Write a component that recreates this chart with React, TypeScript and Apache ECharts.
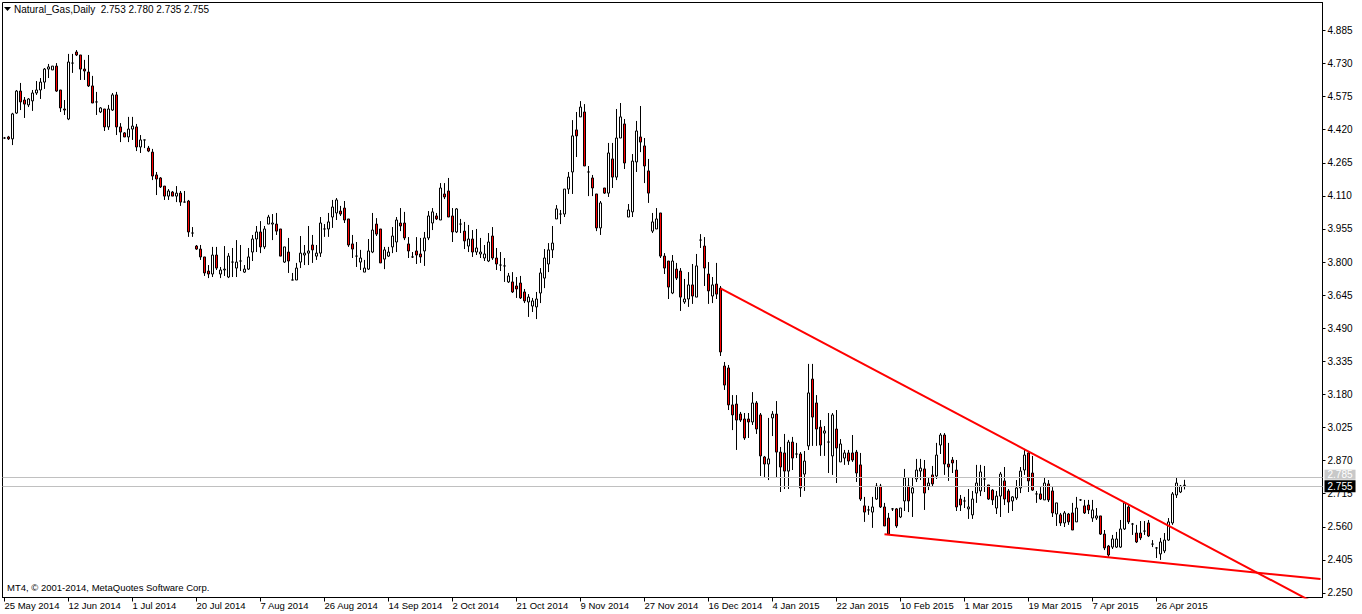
import { useEffect, useRef } from "react";
import * as echarts from "echarts";

const dateLabels = [
  "25 May 2014", "12 Jun 2014", "1 Jul 2014", "20 Jul 2014", "7 Aug 2014",
  "26 Aug 2014", "14 Sep 2014", "2 Oct 2014", "21 Oct 2014", "9 Nov 2014",
  "27 Nov 2014", "16 Dec 2014", "4 Jan 2015", "22 Jan 2015", "10 Feb 2015",
  "1 Mar 2015", "19 Mar 2015", "7 Apr 2015", "26 Apr 2015",
];

const priceTicks = [
  2.25, 2.405, 2.56, 2.715, 2.87, 3.025, 3.18, 3.335, 3.49, 3.645,
  3.8, 3.955, 4.11, 4.265, 4.42, 4.575, 4.73, 4.885,
];

// [open, close, low, high]
const candles: number[][] = [
  [4.381, 4.381, 4.377, 4.386], [4.386, 4.377, 4.372, 4.391], [4.377, 4.494, 4.348, 4.499], [4.498, 4.601, 4.494, 4.606],
  [4.601, 4.550, 4.512, 4.639], [4.559, 4.540, 4.475, 4.573], [4.536, 4.564, 4.526, 4.568], [4.555, 4.592, 4.508, 4.606],
  [4.592, 4.606, 4.583, 4.648], [4.606, 4.643, 4.564, 4.662], [4.643, 4.704, 4.611, 4.709], [4.704, 4.714, 4.662, 4.728],
  [4.700, 4.718, 4.700, 4.718], [4.718, 4.601, 4.597, 4.732], [4.606, 4.522, 4.503, 4.606], [4.517, 4.512, 4.489, 4.559],
  [4.470, 4.737, 4.465, 4.775], [4.732, 4.732, 4.686, 4.775], [4.784, 4.770, 4.765, 4.793], [4.770, 4.704, 4.653, 4.770],
  [4.704, 4.695, 4.653, 4.747], [4.690, 4.625, 4.620, 4.770], [4.625, 4.545, 4.545, 4.672], [4.550, 4.550, 4.489, 4.597],
  [4.503, 4.522, 4.498, 4.526], [4.517, 4.433, 4.414, 4.517], [4.433, 4.517, 4.419, 4.536], [4.512, 4.583, 4.508, 4.592],
  [4.583, 4.433, 4.395, 4.597], [4.433, 4.409, 4.362, 4.451], [4.405, 4.386, 4.386, 4.409], [4.386, 4.423, 4.362, 4.480],
  [4.423, 4.437, 4.372, 4.480], [4.433, 4.339, 4.320, 4.447], [4.339, 4.372, 4.311, 4.395], [4.372, 4.372, 4.334, 4.372],
  [4.334, 4.320, 4.315, 4.344], [4.315, 4.203, 4.184, 4.330], [4.208, 4.189, 4.114, 4.222], [4.194, 4.152, 4.147, 4.198],
  [4.156, 4.109, 4.091, 4.156], [4.109, 4.133, 4.091, 4.142], [4.128, 4.109, 4.109, 4.133], [4.109, 4.123, 4.081, 4.156],
  [4.123, 4.081, 4.063, 4.133], [4.081, 4.081, 4.081, 4.133], [4.086, 3.941, 3.918, 4.091], [3.936, 3.936, 3.918, 3.964],
  [3.875, 3.861, 3.857, 3.880], [3.861, 3.824, 3.810, 3.880], [3.824, 3.749, 3.735, 3.824], [3.758, 3.744, 3.725, 3.786],
  [3.744, 3.833, 3.730, 3.871], [3.833, 3.772, 3.763, 3.871], [3.744, 3.763, 3.725, 3.777], [3.763, 3.767, 3.735, 3.875],
  [3.730, 3.828, 3.725, 3.842], [3.800, 3.800, 3.730, 3.866], [3.772, 3.800, 3.730, 3.903], [3.805, 3.805, 3.758, 3.880],
  [3.753, 3.767, 3.749, 3.786], [3.767, 3.824, 3.763, 3.866], [3.847, 3.908, 3.805, 3.927], [3.908, 3.941, 3.847, 3.969],
  [3.941, 3.871, 3.842, 3.992], [3.871, 3.955, 3.861, 3.969], [3.978, 4.011, 3.978, 4.021], [3.978, 3.983, 3.903, 4.025],
  [3.978, 3.945, 3.927, 4.030], [3.955, 3.828, 3.828, 3.955], [3.800, 3.871, 3.796, 3.871], [3.847, 3.805, 3.749, 3.913],
  [3.716, 3.716, 3.716, 3.749], [3.716, 3.772, 3.716, 3.796], [3.800, 3.842, 3.772, 3.922], [3.833, 3.842, 3.786, 3.880],
  [3.842, 3.852, 3.786, 3.969], [3.880, 3.857, 3.796, 3.927], [3.828, 3.842, 3.810, 3.880], [3.842, 3.983, 3.824, 4.011],
  [3.955, 3.955, 3.918, 3.978], [3.955, 3.988, 3.918, 4.030], [4.011, 4.058, 3.960, 4.091], [4.030, 4.091, 3.997, 4.100],
  [4.039, 4.025, 4.016, 4.063], [4.053, 3.997, 3.983, 4.086], [4.002, 3.880, 3.871, 4.002], [3.885, 3.861, 3.819, 3.927],
  [3.828, 3.828, 3.777, 3.894], [3.800, 3.819, 3.763, 3.857], [3.753, 3.772, 3.753, 3.810], [3.767, 3.852, 3.763, 3.908],
  [3.847, 3.950, 3.842, 4.030], [3.978, 3.931, 3.922, 4.006], [3.955, 3.796, 3.796, 3.955], [3.814, 3.857, 3.767, 3.871],
  [3.828, 3.847, 3.824, 3.871], [3.871, 3.922, 3.842, 3.964], [3.894, 3.997, 3.847, 4.011], [3.983, 3.969, 3.945, 4.053],
  [3.983, 3.913, 3.903, 4.035], [3.885, 3.852, 3.819, 3.917], [3.824, 3.824, 3.819, 3.847], [3.852, 3.833, 3.791, 3.917],
  [3.838, 3.824, 3.796, 3.913], [3.852, 3.913, 3.782, 3.941], [3.913, 4.016, 3.903, 4.039], [3.983, 4.035, 3.950, 4.053],
  [4.016, 4.002, 3.997, 4.030], [3.997, 4.147, 3.997, 4.170], [4.119, 4.105, 4.095, 4.170], [4.133, 4.011, 4.011, 4.194],
  [4.016, 3.941, 3.894, 4.053], [3.941, 4.049, 3.936, 4.053], [3.978, 3.978, 3.936, 4.002], [3.945, 3.899, 3.861, 3.988],
  [3.875, 3.908, 3.847, 3.974], [3.908, 3.847, 3.824, 3.950], [3.847, 3.866, 3.833, 3.955], [3.838, 3.847, 3.819, 3.913],
  [3.819, 3.838, 3.805, 3.880], [3.805, 3.894, 3.800, 3.936], [3.922, 3.819, 3.810, 3.964], [3.819, 3.791, 3.763, 3.866],
  [3.786, 3.786, 3.758, 3.847], [3.782, 3.782, 3.707, 3.819], [3.707, 3.735, 3.702, 3.749], [3.707, 3.660, 3.655, 3.753],
  [3.688, 3.674, 3.632, 3.730], [3.702, 3.632, 3.627, 3.735], [3.660, 3.618, 3.608, 3.674], [3.613, 3.636, 3.543, 3.650],
  [3.594, 3.618, 3.566, 3.632], [3.590, 3.627, 3.533, 3.660], [3.655, 3.749, 3.608, 3.772], [3.725, 3.819, 3.678, 3.861],
  [3.791, 3.857, 3.753, 3.889], [3.857, 3.889, 3.819, 3.969], [4.002, 4.049, 4.002, 4.067], [4.025, 4.025, 3.978, 4.044],
  [4.025, 4.142, 4.011, 4.142], [4.142, 4.198, 4.119, 4.222], [4.222, 4.391, 4.119, 4.465], [4.419, 4.391, 4.292, 4.503],
  [4.480, 4.526, 4.480, 4.554], [4.503, 4.250, 4.250, 4.540], [4.222, 4.222, 4.109, 4.250], [4.194, 4.147, 4.109, 4.208],
  [4.119, 3.960, 3.945, 4.119], [3.960, 4.077, 3.927, 4.086], [4.147, 4.123, 4.119, 4.147], [4.123, 4.311, 4.105, 4.358],
  [4.283, 4.198, 4.147, 4.358], [4.198, 4.381, 4.184, 4.517], [4.381, 4.480, 4.381, 4.545], [4.447, 4.264, 4.236, 4.470],
  [4.011, 4.044, 4.011, 4.072], [4.035, 4.273, 4.011, 4.306], [4.269, 4.414, 4.222, 4.461], [4.386, 4.362, 4.315, 4.531],
  [4.344, 4.250, 4.170, 4.381], [4.227, 4.123, 4.077, 4.283], [3.945, 3.988, 3.936, 4.030], [3.955, 4.002, 3.955, 4.053],
  [4.030, 3.828, 3.819, 4.030], [3.828, 3.772, 3.744, 3.842], [3.805, 3.683, 3.627, 3.805], [3.655, 3.805, 3.650, 3.833],
  [3.767, 3.725, 3.716, 3.796], [3.758, 3.636, 3.571, 3.772], [3.613, 3.627, 3.604, 3.721], [3.627, 3.693, 3.590, 3.753],
  [3.693, 3.641, 3.604, 3.791], [3.636, 3.782, 3.636, 3.838], [3.903, 3.903, 3.866, 3.931], [3.875, 3.772, 3.688, 3.917],
  [3.744, 3.665, 3.604, 3.800], [3.641, 3.693, 3.608, 3.730], [3.697, 3.650, 3.627, 3.796], [3.678, 3.379, 3.360, 3.688],
  [3.313, 3.224, 3.201, 3.332], [3.304, 3.131, 3.107, 3.318], [3.131, 3.084, 3.013, 3.177], [3.135, 3.060, 2.920, 3.177],
  [3.088, 3.060, 3.051, 3.098], [3.065, 2.976, 2.967, 3.093], [3.065, 3.051, 2.976, 3.093], [3.051, 3.140, 3.037, 3.191],
  [3.140, 3.018, 2.995, 3.149], [3.084, 2.892, 2.798, 3.093], [2.887, 2.854, 2.789, 2.892], [2.854, 2.878, 2.779, 3.070],
  [3.070, 3.088, 2.985, 3.102], [3.088, 2.910, 2.789, 3.149], [2.910, 2.840, 2.723, 2.934], [2.906, 2.821, 2.737, 2.995],
  [2.821, 2.957, 2.737, 2.967], [2.957, 2.882, 2.826, 2.981], [2.901, 2.901, 2.882, 2.953], [2.901, 2.742, 2.700, 2.910],
  [2.807, 2.868, 2.728, 2.915], [2.939, 3.187, 2.920, 3.323], [3.252, 3.074, 2.939, 3.323], [3.140, 3.018, 2.939, 3.177],
  [3.027, 2.943, 2.892, 3.060], [2.999, 3.009, 2.892, 3.032], [2.957, 2.957, 2.812, 3.093], [2.892, 3.084, 2.803, 3.093],
  [3.018, 2.929, 2.765, 3.107], [2.864, 2.948, 2.864, 2.971], [2.882, 2.906, 2.850, 2.920], [2.906, 2.868, 2.850, 2.920],
  [2.906, 2.873, 2.864, 2.990], [2.910, 2.812, 2.770, 2.920], [2.850, 2.690, 2.681, 2.906], [2.658, 2.629, 2.583, 2.700],
  [2.639, 2.639, 2.616, 2.658], [2.629, 2.653, 2.555, 2.700], [2.690, 2.751, 2.686, 2.765], [2.751, 2.653, 2.648, 2.761],
  [2.653, 2.564, 2.564, 2.672], [2.601, 2.526, 2.522, 2.625], [2.644, 2.644, 2.634, 2.648], [2.644, 2.564, 2.555, 2.648],
  [2.606, 2.648, 2.601, 2.648], [2.681, 2.789, 2.634, 2.831], [2.751, 2.681, 2.629, 2.793], [2.718, 2.742, 2.606, 2.789],
  [2.784, 2.826, 2.770, 2.878], [2.821, 2.835, 2.779, 2.878], [2.831, 2.718, 2.639, 2.873], [2.751, 2.765, 2.732, 2.789],
  [2.803, 2.761, 2.751, 2.845], [2.798, 2.896, 2.784, 2.953], [2.943, 2.990, 2.901, 2.999], [2.990, 2.854, 2.803, 2.999],
  [2.854, 2.840, 2.775, 2.953], [2.873, 2.859, 2.812, 2.887], [2.826, 2.653, 2.634, 2.873], [2.690, 2.662, 2.634, 2.709],
  [2.681, 2.681, 2.648, 2.700], [2.644, 2.653, 2.597, 2.737], [2.616, 2.690, 2.597, 2.728], [2.718, 2.765, 2.672, 2.850],
  [2.728, 2.817, 2.704, 2.850], [2.784, 2.784, 2.723, 2.845], [2.756, 2.690, 2.686, 2.756], [2.732, 2.686, 2.662, 2.737],
  [2.648, 2.704, 2.620, 2.728], [2.704, 2.807, 2.606, 2.817], [2.775, 2.690, 2.662, 2.840], [2.728, 2.676, 2.625, 2.737],
  [2.681, 2.700, 2.634, 2.704], [2.695, 2.742, 2.686, 2.779], [2.742, 2.821, 2.718, 2.840], [2.826, 2.896, 2.803, 2.920],
  [2.906, 2.775, 2.723, 2.910], [2.812, 2.732, 2.728, 2.892], [2.714, 2.714, 2.672, 2.728], [2.714, 2.690, 2.686, 2.746],
  [2.686, 2.765, 2.686, 2.789], [2.761, 2.686, 2.676, 2.779], [2.728, 2.625, 2.606, 2.746], [2.620, 2.672, 2.564, 2.672],
  [2.616, 2.578, 2.564, 2.625], [2.578, 2.625, 2.559, 2.634], [2.620, 2.583, 2.569, 2.625], [2.625, 2.545, 2.545, 2.672],
  [2.583, 2.648, 2.583, 2.700], [2.686, 2.686, 2.681, 2.690], [2.658, 2.625, 2.620, 2.686], [2.662, 2.639, 2.620, 2.686],
  [2.601, 2.639, 2.583, 2.686], [2.601, 2.611, 2.592, 2.648], [2.611, 2.526, 2.522, 2.611], [2.526, 2.461, 2.451, 2.545],
  [2.470, 2.428, 2.419, 2.475], [2.465, 2.503, 2.456, 2.522], [2.465, 2.503, 2.461, 2.536], [2.465, 2.550, 2.461, 2.592],
  [2.550, 2.672, 2.545, 2.676], [2.653, 2.583, 2.573, 2.667], [2.573, 2.573, 2.522, 2.578], [2.531, 2.489, 2.484, 2.569],
  [2.531, 2.508, 2.498, 2.587], [2.540, 2.540, 2.522, 2.587], [2.578, 2.517, 2.512, 2.592], [2.479, 2.479, 2.465, 2.498],
  [2.461, 2.461, 2.414, 2.465], [2.433, 2.489, 2.405, 2.508], [2.447, 2.498, 2.437, 2.531], [2.498, 2.583, 2.494, 2.601],
  [2.578, 2.714, 2.569, 2.723], [2.709, 2.765, 2.695, 2.789], [2.723, 2.751, 2.718, 2.756], [2.753, 2.755, 2.735, 2.780],
];

const bidPrice = 2.755;
const askPrice = 2.785;
// [bar index, price]
const upperTrend = [[179, 3.677], [329, 2.188]];
const lowerTrend = [[220, 2.525], [329, 2.315]];

const headerText = "Natural_Gas,Daily  2.753 2.780 2.735 2.755";
const footerText = "MT4, \u00a9 2001-2014, MetaQuotes Software Corp.";

const SLOTS = 330;
const LABEL_EVERY = 16;
const FONT = "Liberation Sans";

export default function App() {
  const ref = useRef<HTMLDivElement>(null);
  useEffect(() => {
    if (!ref.current) return;
    const chart = echarts.init(ref.current, null, { renderer: "svg" });
    const categories = Array.from({ length: SLOTS }, (_, i) => String(i));
    const showAt = (i: number) => i % LABEL_EVERY === 0 && i / LABEL_EVERY < dateLabels.length;
    chart.setOption({
      animation: false,
      backgroundColor: "#ffffff",
      grid: {
        left: 2.5, top: 2.5, width: 1320, height: 595,
        show: true, borderColor: "#000", borderWidth: 1, backgroundColor: "#fff",
      },
      xAxis: {
        type: "category",
        data: categories,
        boundaryGap: true,
        axisLine: { show: true, lineStyle: { color: "#000", width: 1 } },
        axisTick: {
          show: true, alignWithLabel: true, length: 4,
          interval: (i: number) => showAt(i),
          lineStyle: { color: "#000" },
        },
        axisLabel: {
          interval: (i: number) => showAt(i),
          formatter: (v: string) => dateLabels[Number(v) / LABEL_EVERY] ?? "",
          align: "left", margin: 3, color: "#000", fontSize: 9.5, fontFamily: FONT,
        },
        splitLine: { show: false },
      },
      yAxis: {
        type: "value",
        position: "right",
        min: 2.2289,
        max: 5.0158,
        splitLine: { show: false },
        axisLine: { show: true, lineStyle: { color: "#000", width: 1 } },
        axisTick: { show: true, customValues: priceTicks, length: 3, lineStyle: { color: "#000" } },
        axisLabel: {
          customValues: priceTicks,
          formatter: (v: number) => v.toFixed(3),
          color: "#000", fontSize: 10, fontFamily: FONT, margin: 5,
        },
      },
      series: [
        {
          type: "candlestick",
          data: candles,
          barWidth: 2,
          itemStyle: {
            color: "#ffffff",
            color0: "#ff0000",
            borderColor: "#000000",
            borderColor0: "#000000",
            borderColorDoji: "#000000",
            borderWidth: 1,
          },
          markLine: {
            silent: true,
            symbol: ["none", "none"],
            data: [
              {
                yAxis: askPrice,
                lineStyle: { color: "#c0c0c0", width: 1, type: "solid" },
                label: {
                  show: true, position: "end", distance: 2, formatter: askPrice.toFixed(3),
                  backgroundColor: "#c8c8c8", color: "#ffffff", padding: [0, 3, 0, 3],
                  fontSize: 10, fontFamily: FONT, offset: [0, -3],
                },
              },
              {
                yAxis: bidPrice,
                lineStyle: { color: "#c0c0c0", width: 1, type: "solid" },
                label: {
                  show: true, position: "end", distance: 2, formatter: bidPrice.toFixed(3),
                  backgroundColor: "#000000", color: "#ffffff", padding: [1, 3, 1, 3],
                  fontSize: 10, fontFamily: FONT,
                },
              },
            ],
          },
        },
        {
          type: "line",
          data: upperTrend,
          showSymbol: false,
          clip: true,
          lineStyle: { color: "#ff0000", width: 2 },
          z: 5,
        },
        {
          type: "line",
          data: lowerTrend,
          showSymbol: false,
          clip: true,
          lineStyle: { color: "#ff0000", width: 2 },
          z: 5,
        },
      ],
      graphic: [
        {
          type: "polygon",
          shape: { points: [[4, 7], [11, 7], [7.5, 11]] },
          style: { fill: "#000" },
        },
        {
          type: "text",
          left: 14, top: 4,
          style: { text: headerText, fill: "#000", font: `10px "${FONT}"` },
        },
        {
          type: "text",
          left: 7, top: 582,
          style: { text: footerText, fill: "#000", font: `9.5px "${FONT}"` },
        },
      ],
    });
    return () => chart.dispose();
  }, []);
  return (
    <div
      ref={ref}
      style={{ position: "fixed", left: 0, top: 0, width: 1362, height: 614 }}
    />
  );
}
